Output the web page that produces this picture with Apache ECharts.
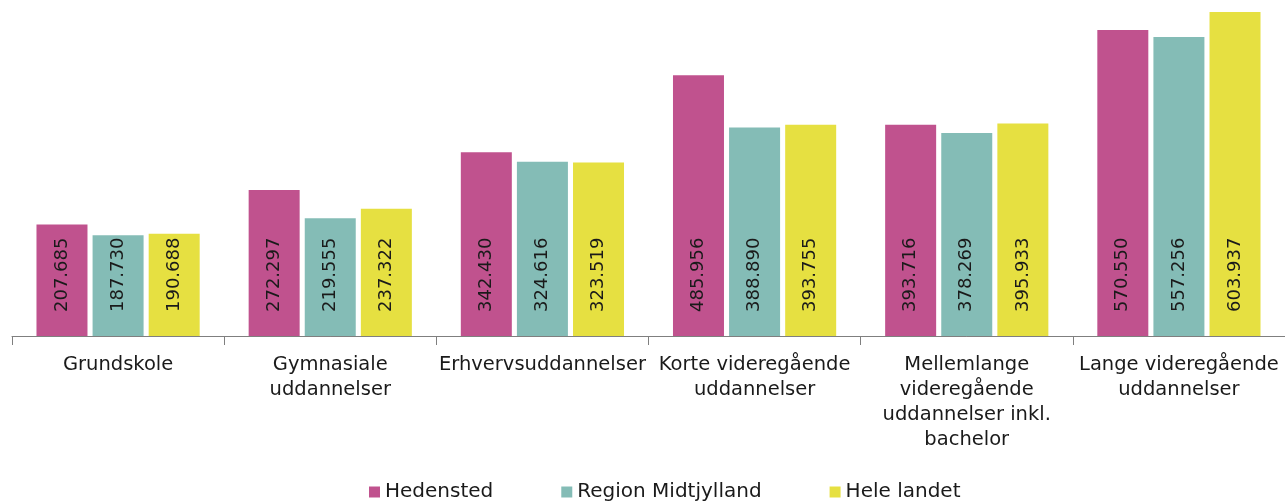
<!DOCTYPE html>
<html>
<head>
<meta charset="utf-8">
<script src="https://cdn.jsdelivr.net/npm/echarts@6/dist/echarts.min.js"></script>
<style>
  html, body { margin: 0; padding: 0; background: #fff; }
  #chart { width: 1285px; height: 502px; }
</style>
</head>
<body>
<div id="chart"></div>
<script>
const categories = [
  'Grundskole',
  'Gymnasiale\nuddannelser',
  'Erhvervsuddannelser',
  'Korte videregående\nuddannelser',
  'Mellemlange\nvideregående\nuddannelser inkl.\nbachelor',
  'Lange videregående\nuddannelser'
];
const hedensted = [207685, 272297, 342430, 485956, 393716, 570550];
const regionMidtjylland = [187730, 219555, 324616, 388890, 378269, 557256];
const heleLandet = [190688, 237322, 323519, 393755, 395933, 603937];

const font = '"DejaVu Sans", sans-serif';

// 207685 -> "207.685"
function fmt(v) {
  return String(v).replace(/\B(?=(\d{3})+(?!\d))/g, '.');
}

function bar(name, data, color) {
  return {
    name: name,
    type: 'bar',
    data: data,
    barWidth: 51,
    barGap: '10%',
    itemStyle: { color: color },
    label: {
      show: true,
      position: 'insideBottom',
      rotate: 90,
      align: 'left',
      verticalAlign: 'middle',
      distance: 24,
      color: '#1a1a1a',
      fontFamily: font,
      fontSize: 18,
      formatter: p => fmt(p.value)
    }
  };
}

const chart = echarts.init(document.getElementById('chart'));
chart.setOption({
  animation: false,
  grid: { left: 12, right: 0, top: 3.4, bottom: 166, containLabel: false },
  legend: {
    top: 477,
    left: 364,
    itemWidth: 11,
    itemHeight: 11,
    itemGap: 68,
    icon: 'rect',
    textStyle: { fontFamily: font, fontSize: 20, color: '#1a1a1a' },
    data: ['Hedensted', 'Region Midtjylland', 'Hele landet']
  },
  xAxis: {
    type: 'category',
    data: categories,
    axisLine: { lineStyle: { color: '#7f7f7f', width: 1 } },
    axisTick: { show: true, length: 9, lineStyle: { color: '#7f7f7f' } },
    axisLabel: {
      interval: 0,
      margin: 16,
      fontFamily: font,
      fontSize: 19.5,
      lineHeight: 25,
      color: '#1a1a1a'
    }
  },
  yAxis: {
    type: 'value',
    min: 0,
    max: 620000,
    show: false,
    splitLine: { show: false }
  },
  series: [
    bar('Hedensted', hedensted, '#c0528e'),
    bar('Region Midtjylland', regionMidtjylland, '#84bcb6'),
    bar('Hele landet', heleLandet, '#e6e041')
  ]
});
</script>
</body>
</html>
